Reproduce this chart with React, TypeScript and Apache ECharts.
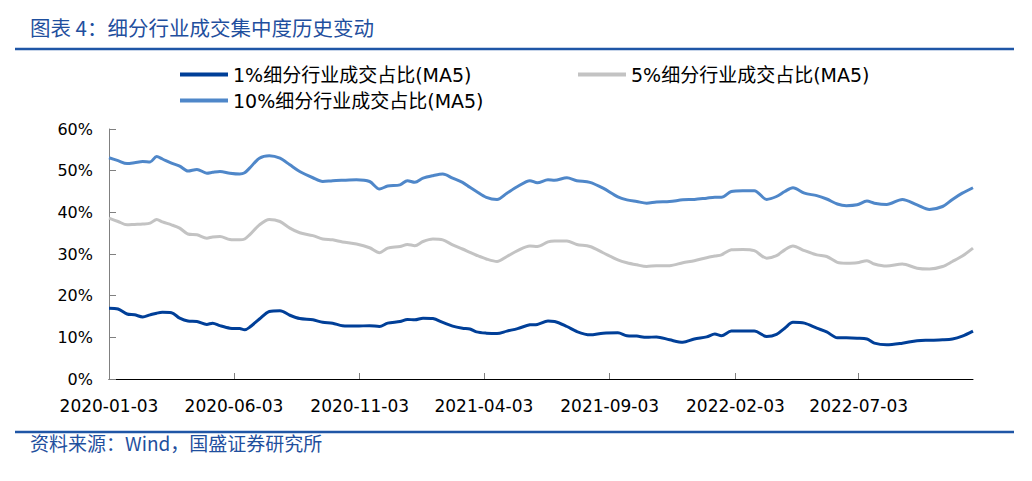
import React, { useEffect, useRef } from "react";
import * as echarts from "echarts";

const dates = [
  "2020-01-03", "2020-01-14", "2020-01-25", "2020-02-03", "2020-02-13", "2020-02-22", "2020-03-01", "2020-03-08",
  "2020-03-19", "2020-03-29", "2020-04-08", "2020-04-19", "2020-05-01", "2020-05-08", "2020-05-17", "2020-05-29",
  "2020-06-10", "2020-06-16", "2020-06-22", "2020-07-04", "2020-07-16", "2020-07-29", "2020-08-10", "2020-08-22",
  "2020-09-07", "2020-09-19", "2020-10-01", "2020-10-13", "2020-10-30", "2020-11-15", "2020-11-27", "2020-12-07",
  "2020-12-22", "2020-12-31", "2021-01-09", "2021-01-19", "2021-01-31", "2021-02-12", "2021-02-24", "2021-03-08",
  "2021-03-17", "2021-03-25", "2021-04-06", "2021-04-19", "2021-05-01", "2021-05-14", "2021-05-29", "2021-06-07",
  "2021-06-20", "2021-06-28", "2021-07-13", "2021-07-25", "2021-08-10", "2021-08-26", "2021-09-13", "2021-09-24",
  "2021-10-06", "2021-10-18", "2021-10-30", "2021-11-15", "2021-12-01", "2021-12-15", "2021-12-30", "2022-01-09",
  "2022-01-17", "2022-01-29", "2022-02-12", "2022-02-26", "2022-03-13", "2022-03-25", "2022-04-04", "2022-04-14",
  "2022-04-28", "2022-05-13", "2022-05-25", "2022-06-07", "2022-06-18", "2022-07-01", "2022-07-13", "2022-07-22",
  "2022-08-06", "2022-08-25", "2022-09-12", "2022-09-27", "2022-10-13", "2022-10-25", "2022-11-06", "2022-11-19",
];

const top10 = [
  53.1, 52.4, 51.7, 51.9, 52.2, 52.1, 53.4, 52.8, 51.8, 51.1, 49.9, 50.3, 49.4, 49.6, 49.8, 49.4,
  49.2, 49.5, 50.6, 53.0, 53.6, 53.0, 51.4, 49.8, 48.3, 47.4, 47.6, 47.7, 47.8, 47.4, 45.6, 46.3,
  46.6, 47.6, 47.2, 48.2, 48.8, 49.2, 48.2, 47.2, 46.0, 45.0, 43.6, 43.1, 44.6, 46.2, 47.6, 47.1,
  47.8, 47.7, 48.3, 47.6, 47.2, 45.8, 43.7, 43.0, 42.6, 42.2, 42.5, 42.6, 43.0, 43.1, 43.4, 43.6,
  43.6, 45.0, 45.2, 45.2, 43.1, 43.8, 45.0, 45.9, 44.6, 44.0, 43.2, 42.0, 41.6, 41.8, 42.7, 42.2,
  41.9, 43.1, 41.8, 40.7, 41.4, 43.1, 44.6, 45.9,
];

const top5 = [
  38.6, 37.8, 37.0, 37.1, 37.2, 37.4, 38.3, 37.7, 37.0, 36.2, 34.8, 34.6, 33.8, 34.1, 34.2, 33.5,
  33.4, 33.6, 34.6, 37.0, 38.3, 37.8, 36.2, 35.1, 34.4, 33.6, 33.4, 32.9, 32.4, 31.5, 30.3, 31.4,
  31.8, 32.3, 32.0, 33.0, 33.6, 33.4, 32.2, 31.2, 30.4, 29.7, 28.8, 28.2, 29.4, 30.8, 31.9, 31.8,
  32.9, 33.1, 33.1, 32.3, 31.8, 30.3, 28.6, 27.9, 27.4, 27.0, 27.2, 27.2, 27.9, 28.4, 29.1, 29.5,
  29.8, 31.0, 31.1, 30.8, 29.0, 29.6, 31.0, 31.9, 30.8, 29.8, 29.4, 28.0, 27.8, 27.9, 28.4, 27.6,
  27.1, 27.6, 26.6, 26.4, 27.0, 28.2, 29.5, 31.4,
];

const top1 = [
  17.0, 16.8, 15.6, 15.4, 14.9, 15.4, 15.8, 16.0, 15.9, 14.6, 13.9, 13.8, 13.1, 13.4, 12.8, 12.2,
  12.1, 11.8, 12.4, 14.4, 16.2, 16.4, 15.3, 14.5, 14.2, 13.6, 13.4, 12.8, 12.7, 12.8, 12.6, 13.4,
  13.8, 14.3, 14.2, 14.6, 14.5, 13.6, 12.7, 12.2, 12.0, 11.3, 11.0, 10.9, 11.5, 12.1, 13.0, 13.1,
  13.9, 13.8, 12.6, 11.4, 10.6, 11.0, 11.1, 10.4, 10.3, 10.0, 10.1, 9.4, 8.8, 9.6, 10.1, 10.8,
  10.4, 11.5, 11.5, 11.5, 10.2, 10.7, 12.2, 13.6, 13.4, 12.2, 11.3, 9.9, 9.9, 9.8, 9.6, 8.6,
  8.2, 8.6, 9.2, 9.3, 9.4, 9.6, 10.3, 11.5,
];

const tickDates = [
  "2020-01-03", "2020-06-03", "2020-11-03", "2021-04-03", "2021-09-03", "2022-02-03", "2022-07-03",
];

const axisStart = "2020-01-03";
const axisEnd = "2022-11-19";

const yTicks = [0, 10, 20, 30, 40, 50, 60];

const names = [
  "1%细分行业成交占比(MA5)",
  "5%细分行业成交占比(MA5)",
  "10%细分行业成交占比(MA5)",
];

const titleText = "图表 4：细分行业成交集中度历史变动";
const sourceText = "资料来源：Wind，国盛证券研究所";

const toTs = (s: string) => {
  const [y, m, d] = s.split("-").map(Number);
  return Date.UTC(y, m - 1, d);
};
const pad = (n: number) => (n < 10 ? "0" + n : "" + n);
const fmt = (v: number) => {
  const d = new Date(v);
  return d.getUTCFullYear() + "-" + pad(d.getUTCMonth() + 1) + "-" + pad(d.getUTCDate());
};

const LATIN = "'DejaVu Sans', 'Noto Sans CJK SC', sans-serif";
const CJK = "'Noto Sans CJK SC', 'DejaVu Sans', sans-serif";
const BLUE_TEXT = "#1f4f9e";

export default function App() {
  const ref = useRef<HTMLDivElement>(null);

  useEffect(() => {
    document.body.style.margin = "0";
    if (!ref.current) return;
    const chart = echarts.init(ref.current, null, { renderer: "svg" });
    const mk = (vals: number[]) => dates.map((d, i) => [toTs(d), vals[i]]);
    const legendText = { fontSize: 19, fontFamily: LATIN, color: "#000" };
    const legendBase = {
      icon: "rect",
      itemWidth: 48,
      itemHeight: 4,
      itemGap: 10,
      padding: 0,
      textStyle: legendText,
    };
    const tickVals = tickDates.map(toTs);
    chart.setOption({
      animation: false,
      backgroundColor: "#fff",
      grid: { left: 109, right: 59, top: 129, bottom: 102 },
      legend: [
        { ...legendBase, data: [names[0]], left: 180, top: 65 },
        { ...legendBase, data: [names[1]], left: 578, top: 65 },
        { ...legendBase, data: [names[2]], left: 180, top: 91 },
      ],
      xAxis: {
        type: "value",
        min: toTs(axisStart),
        max: toTs(axisEnd),
        splitLine: { show: false },
        axisLine: { show: true, lineStyle: { color: "#000", width: 1 } },
        axisTick: {
          show: true,
          inside: true,
          length: 6,
          lineStyle: { color: "#808080" },
          customValues: tickVals,
        },
        axisLabel: {
          customValues: tickVals,
          formatter: (v: number) => fmt(v),
          fontSize: 17,
          fontFamily: LATIN,
          color: "#000",
          margin: 18,
        },
      },
      yAxis: {
        type: "value",
        min: yTicks[0],
        max: yTicks[yTicks.length - 1],
        interval: 10,
        splitLine: { show: false },
        axisLine: { show: true, lineStyle: { color: "#808080", width: 1 } },
        axisTick: { show: true, inside: true, length: 7, lineStyle: { color: "#808080" } },
        axisLabel: {
          formatter: "{value}%",
          fontSize: 16,
          fontFamily: LATIN,
          color: "#000",
          margin: 16,
        },
      },
      series: [
        {
          name: names[0],
          type: "line",
          data: mk(top1),
          showSymbol: false,
          smooth: 0.3,
          color: "#003f98",
          lineStyle: { width: 3, color: "#003f98" },
        },
        {
          name: names[1],
          type: "line",
          data: mk(top5),
          showSymbol: false,
          smooth: 0.3,
          color: "#c3c3c3",
          lineStyle: { width: 3, color: "#c3c3c3" },
        },
        {
          name: names[2],
          type: "line",
          data: mk(top10),
          showSymbol: false,
          smooth: 0.3,
          color: "#4f87c9",
          lineStyle: { width: 3, color: "#4f87c9" },
        },
      ],
      graphic: [
        {
          type: "text",
          left: 30,
          top: 17,
          style: { text: titleText, fontSize: 20.5, fontFamily: CJK, fill: BLUE_TEXT },
        },
        {
          type: "line",
          shape: { x1: 15, y1: 49, x2: 1014, y2: 49 },
          style: { stroke: "#1f56a6", lineWidth: 2.4 },
        },
        {
          type: "line",
          shape: { x1: 15, y1: 432, x2: 1014, y2: 432 },
          style: { stroke: "#1f56a6", lineWidth: 2.4 },
        },
        {
          type: "text",
          left: 30,
          top: 433,
          style: { text: sourceText, fontSize: 19, fontFamily: CJK, fill: BLUE_TEXT },
        },
      ],
    });
    return () => chart.dispose();
  }, []);

  return <div ref={ref} style={{ width: 1032, height: 481 }} />;
}
